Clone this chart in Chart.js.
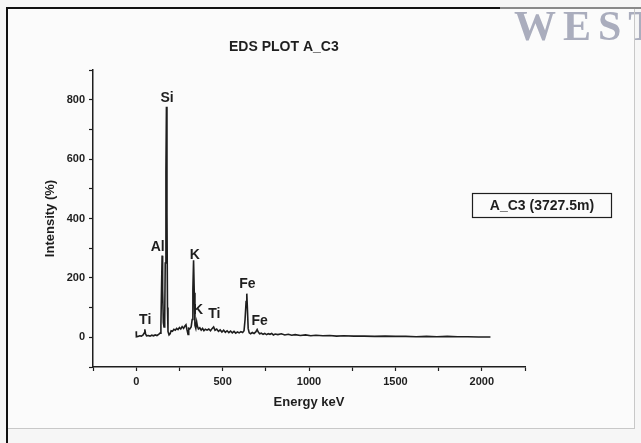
<!DOCTYPE html>
<html>
<head>
<meta charset="utf-8">
<script src="https://cdn.jsdelivr.net/npm/chart.js@4/dist/chart.umd.min.js"></script>
<style>
  html, body { margin: 0; padding: 0; background: #f6f6f6; }
  #wrap { width: 641px; height: 443px; }
</style>
</head>
<body>
<div id="wrap"><canvas id="edsChart" width="641" height="443"></canvas></div>
<script>
// EDS spectrum A_C3
const energyKeV = [0, 1, 10, 20, 30, 40, 46, 50, 54, 60, 70, 80, 90, 100, 110, 120, 130, 138, 143, 147, 150, 153, 157, 161,
    165, 168, 172, 175, 178, 181, 184, 190, 196, 202, 210, 218, 226, 234, 242, 250, 258, 266, 274, 282, 288, 294, 300,
    304, 310, 318, 324, 328, 332, 336, 340, 345, 350, 354, 360, 368, 376, 384, 392, 400, 410, 420, 430, 440, 448, 456,
    466, 476, 486, 496, 506, 516, 526, 536, 546, 556, 566, 576, 586, 596, 606, 616, 624, 630, 636, 640, 644, 648, 654,
    662, 672, 682, 692, 700, 706, 714, 724, 734, 744, 754, 764, 774, 784, 794, 804, 820, 840, 860, 880, 900, 920, 950,
    980, 1010, 1040, 1080, 1120, 1160, 1200, 1260, 1320, 1380, 1440, 1500, 1560, 1620, 1680, 1740, 1800, 1860, 1920,
    1980, 2050];
const intensity = [20, 2, 3, 5, 4, 8, 14, 27, 12, 5, 6, 4, 7, 5, 8, 6, 10, 14, 40, 180, 275, 160, 50, 35,
    60, 250, 560, 776, 420, 100, 20, 8, 12, 22, 20, 27, 24, 30, 26, 33, 28, 36, 30, 38, 42, 25, 10,
    30, 28, 35, 60, 160, 259, 150, 40, 30, 52, 38, 28, 32, 24, 30, 22, 27, 24, 28, 22, 30, 35, 24,
    28, 20, 25, 18, 24, 17, 22, 16, 21, 15, 20, 14, 18, 15, 19, 16, 22, 60, 120, 147, 90, 30, 15,
    12, 16, 13, 18, 26, 18, 12, 14, 10, 13, 9, 12, 10, 13, 8, 11, 9, 12, 8, 10, 7, 9, 6,
    8, 5, 7, 5, 6, 4, 5, 4, 4, 3, 4, 3, 3, 2, 3, 2, 3, 2, 2,
    1, 1];

// peak annotations (element, energy, intensity of label centre)
const peakNames = ['Ti', 'Al', 'Si', 'K', 'K', 'Ti', 'Fe', 'Fe'];
const peakLabelX = [52, 124, 179, 339, 358, 452, 643, 714];
const peakLabelY = [57, 303, 804, 276, 91, 77, 178, 55];

const chartTitle = 'EDS PLOT A_C3';
const seriesName = 'A_C3 (3727.5m)';
const xTitle = 'Energy keV';
const yTitle = 'Intensity (%)';

const FONT = '"Liberation Sans", Arial, sans-serif';
const INK = '#1e1e1e';

const points = energyKeV.map((e, i) => ({ x: e, y: intensity[i] }));

// page frame, scan background and the faint watermark
const backdrop = {
    id: 'backdrop',
    beforeDraw(chart) {
        const ctx = chart.ctx;
        ctx.save();
        ctx.fillStyle = '#f6f6f6';
        ctx.fillRect(0, 0, chart.width, chart.height);
        ctx.fillStyle = '#fbfbfb';
        ctx.fillRect(7, 8, 627, 420);

        // watermark
        ctx.fillStyle = '#aaadbd';
        ctx.font = 'bold 42px "Liberation Serif", "DejaVu Serif", serif';
        ctx.textBaseline = 'alphabetic';
        ctx.letterSpacing = '7px';
        ctx.fillText('WEST', 514, 40);
        ctx.letterSpacing = '0px';

        // frame
        ctx.strokeStyle = '#c8c8c8';
        ctx.lineWidth = 1;
        ctx.strokeRect(7.5, 8.5, 627, 420);
        ctx.strokeStyle = '#111';
        ctx.lineWidth = 2;
        ctx.beginPath();
        ctx.moveTo(7, 443);
        ctx.lineTo(7, 8);
        ctx.lineTo(500, 8);
        ctx.stroke();
        ctx.strokeStyle = '#8a8a8a';
        ctx.beginPath();
        ctx.moveTo(500, 8);
        ctx.lineTo(641, 8);
        ctx.stroke();
        ctx.restore();
    }
};

// title, peak labels and the boxed series legend
const annotations = {
    id: 'annotations',
    afterDraw(chart) {
        const ctx = chart.ctx;
        const xs = chart.scales.x;
        const ys = chart.scales.y;
        ctx.save();
        ctx.fillStyle = INK;
        ctx.textBaseline = 'middle';

        ctx.textAlign = 'left';
        ctx.font = 'bold 14px ' + FONT;
        ctx.fillText(chartTitle, 229, 47);

        ctx.textAlign = 'center';
        ctx.font = 'bold 14px ' + FONT;
        peakNames.forEach((name, i) => {
            ctx.fillText(name, xs.getPixelForValue(peakLabelX[i]), ys.getPixelForValue(peakLabelY[i]));
        });

        ctx.strokeStyle = INK;
        ctx.lineWidth = 1.2;
        ctx.strokeRect(472.5, 193.5, 139, 24);
        ctx.font = 'bold 14px ' + FONT;
        ctx.fillText(seriesName, 542, 206);
        ctx.restore();
    }
};

new Chart(document.getElementById('edsChart').getContext('2d'), {
    type: 'line',
    data: {
        datasets: [{
            label: seriesName,
            data: points,
            borderColor: INK,
            borderWidth: 1.6,
            pointRadius: 0,
            tension: 0,
            fill: false
        }]
    },
    options: {
        responsive: false,
        animation: false,
        events: [],
        layout: {
            padding: { left: 43, top: 70, right: 116, bottom: 33 }
        },
        plugins: {
            legend: { display: false },
            title: { display: false },
            tooltip: { enabled: false }
        },
        scales: {
            x: {
                type: 'linear',
                min: -250,
                max: 2250,
                afterFit: scale => { scale.height = 43; },
                border: { display: true, color: INK, width: 1.5 },
                grid: { display: true, drawOnChartArea: false, drawTicks: true, tickLength: 4, color: INK, tickWidth: 1.2 },
                ticks: {
                    stepSize: 250,
                    autoSkip: false,
                    maxRotation: 0,
                    padding: 4,
                    color: INK,
                    font: { family: FONT, size: 11, weight: 'bold' },
                    callback: v => (v % 500 === 0 ? String(v) : '')
                },
                title: {
                    display: true,
                    text: xTitle,
                    color: INK,
                    padding: 0,
                    font: { family: FONT, size: 13, weight: 'bold' }
                }
            },
            y: {
                min: -100,
                max: 900,
                afterFit: scale => { scale.width = 50; },
                border: { display: true, color: INK, width: 1.5 },
                grid: { display: true, drawOnChartArea: false, drawTicks: true, tickLength: 4, color: INK, tickWidth: 1.2 },
                ticks: {
                    stepSize: 100,
                    autoSkip: false,
                    padding: 4,
                    color: INK,
                    font: { family: FONT, size: 11, weight: 'bold' },
                    callback: v => (v % 200 === 0 ? String(v) : '')
                },
                title: {
                    display: true,
                    text: yTitle,
                    color: INK,
                    padding: 0,
                    font: { family: FONT, size: 13, weight: 'bold' }
                }
            }
        }
    },
    plugins: [backdrop, annotations]
});
</script>
</body>
</html>
